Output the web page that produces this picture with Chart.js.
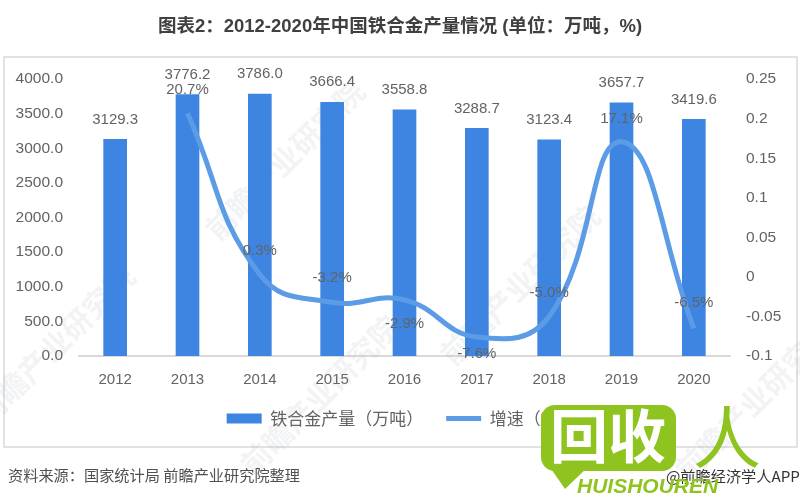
<!DOCTYPE html>
<html>
<head>
<meta charset="utf-8">
<script src="https://cdn.jsdelivr.net/npm/chart.js@4/dist/chart.umd.min.js"></script>
<style>
  html, body { margin: 0; padding: 0; background: #fff; }
  canvas { display: block; }
</style>
</head>
<body>
<canvas id="myChart" width="800" height="500"></canvas>
<script>
const years = ['2012', '2013', '2014', '2015', '2016', '2017', '2018', '2019', '2020'];
const output = [3129.3, 3776.2, 3786.0, 3666.4, 3558.8, 3288.7, 3123.4, 3657.7, 3419.6];
const growth = [null, 0.207, 0.003, -0.032, -0.029, -0.076, -0.05, 0.171, -0.065];
const growthLabelGap = [0, -23, -24, -24, 24, 17, -24, -23, -25];

const textColor = '#636363';
const sans = '"Liberation Sans", "Noto Sans CJK SC", sans-serif';
const cjk = '"Noto Sans CJK SC", sans-serif';

// grey frame around the plot, goes under everything
const framePlugin = {
    id: 'frame',
    beforeDraw(chart) {
        const c = chart.ctx;
        c.save();
        c.fillStyle = '#fff';
        c.fillRect(0, 0, 800, 500);
        c.strokeStyle = '#d9d9d9';
        c.lineWidth = 1.5;
        c.strokeRect(4, 57, 793, 390);
        c.restore();
    }
};

// faint diagonal watermarks
const watermarkPlugin = {
    id: 'watermark',
    beforeDatasetsDraw(chart) {
        const c = chart.ctx;
        const spots = [[55, 345], [285, 160], [520, 285], [320, 395], [755, 400]];
        c.save();
        c.fillStyle = 'rgba(150,160,170,0.13)';
        c.font = 'bold 30px ' + cjk;
        c.textAlign = 'center';
        c.textBaseline = 'middle';
        spots.forEach(s => {
            c.save();
            c.translate(s[0], s[1]);
            c.rotate(-Math.PI / 4);
            c.fillText('前瞻产业研究院', 0, 0);
            c.restore();
        });
        c.restore();
    }
};

// value labels for bars and line
const labelPlugin = {
    id: 'valueLabels',
    afterDatasetsDraw(chart) {
        const c = chart.ctx;
        const barMeta = chart.getDatasetMeta(0);
        const lineMeta = chart.getDatasetMeta(1);
        c.save();
        c.fillStyle = textColor;
        c.font = '15px ' + sans;
        c.textAlign = 'center';
        c.textBaseline = 'middle';
        output.forEach((v, i) => {
            const bar = barMeta.data[i];
            c.fillText(v.toFixed(1), bar.x, bar.y - 20);
        });
        growth.forEach((v, i) => {
            if (v === null) return;
            const pt = lineMeta.data[i];
            c.fillText((v * 100).toFixed(1) + '%', pt.x, pt.y + growthLabelGap[i]);
        });
        c.restore();
    }
};

// green site stamp over the bottom right corner
const stampPlugin = {
    id: 'stamp',
    afterDraw(chart) {
        const c = chart.ctx;
        c.save();
        c.fillStyle = '#505050';
        c.font = '15.2px ' + cjk;
        c.textAlign = 'left';
        c.textBaseline = 'middle';
        c.fillText('资料来源：国家统计局 前瞻产业研究院整理', 8, 475);
        c.fillStyle = '#333';
        c.font = '15.2px ' + cjk;
        c.fillText('@前瞻经济学人APP', 666, 476);

        c.fillStyle = '#8fc31f';
        c.beginPath();
        c.roundRect(541, 405, 135, 66, 14);
        c.fill();
        c.beginPath();
        c.moveTo(545, 460);
        c.lineTo(565, 489);
        c.lineTo(590, 465);
        c.closePath();
        c.fill();
        c.fillStyle = '#fff';
        c.font = 'bold 58px ' + cjk;
        c.textAlign = 'center';
        c.fillText('回收', 608, 436);
        c.fillStyle = '#8fc31f';
        c.font = '68px ' + cjk;
        c.fillText('人', 727, 437);
        c.font = 'italic bold 21px ' + sans;
        c.textAlign = 'left';
        c.fillText('HUISHOUREN', 577, 487);
        c.restore();
    }
};

new Chart(document.getElementById('myChart'), {
    data: {
        labels: years,
        datasets: [{
            type: 'bar',
            label: '铁合金产量（万吨）',
            data: output,
            yAxisID: 'y',
            backgroundColor: '#3d85e0',
            barThickness: 23,
            pointStyle: 'rect',
            order: 2
        }, {
            type: 'line',
            label: '增速（%）',
            data: growth,
            yAxisID: 'y1',
            borderColor: '#5c9ce6',
            backgroundColor: '#5c9ce6',
            borderWidth: 5,
            pointRadius: 0,
            tension: 0.45,
            pointStyle: 'line',
            order: 1
        }]
    },
    options: {
        responsive: false,
        animation: false,
        layout: { padding: { left: 0, right: 0, top: 16, bottom: 63 } },
        scales: {
            x: {
                afterFit: s => { s.height = 31; },
                grid: { display: false },
                border: { color: '#d9d9d9', width: 2 },
                ticks: { color: textColor, font: { family: sans, size: 15 }, padding: 7 }
            },
            y: {
                position: 'left',
                min: 0,
                max: 4000,
                afterFit: s => { s.width = 79; },
                grid: { display: false, drawTicks: false },
                border: { display: false },
                ticks: {
                    stepSize: 500,
                    padding: 16,
                    color: textColor,
                    font: { family: sans, size: 15.5 },
                    callback: v => v.toFixed(1)
                }
            },
            y1: {
                position: 'right',
                min: -0.1,
                max: 0.25,
                afterFit: s => { s.width = 70; },
                grid: { display: false, drawTicks: false },
                border: { display: false },
                ticks: {
                    stepSize: 0.05,
                    padding: 16,
                    color: textColor,
                    font: { family: sans, size: 15.5 },
                    callback: v => String(Number(v.toFixed(2)))
                }
            }
        },
        plugins: {
            title: {
                display: true,
                text: '图表2：2012-2020年中国铁合金产量情况 (单位：万吨，%)',
                color: '#404040',
                font: { family: sans, size: 18.5, weight: 'bold' },
                padding: { top: 0, bottom: 41 }
            },
            legend: {
                position: 'bottom',
                labels: {
                    usePointStyle: true,
                    pointStyleWidth: 35,
                    boxHeight: 10,
                    padding: 23,
                    color: textColor,
                    font: { family: cjk, size: 17 },
                    sort: (a, b) => a.datasetIndex - b.datasetIndex
                }
            },
            tooltip: { enabled: false }
        }
    },
    plugins: [framePlugin, watermarkPlugin, labelPlugin, stampPlugin]
});
</script>
</body>
</html>
